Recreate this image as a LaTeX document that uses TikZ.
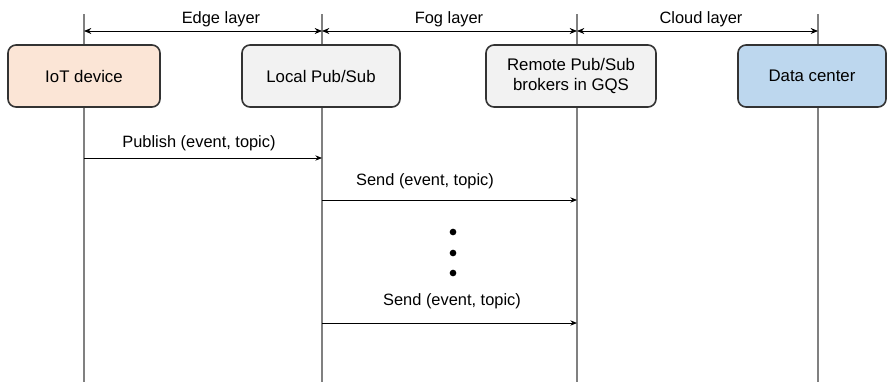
\documentclass[tikz,border=0pt]{standalone}
\usepackage{fontspec}
\setmainfont{Liberation Sans}
\usetikzlibrary{arrows.meta}
\definecolor{peach}{HTML}{FBE5D6}
\definecolor{lightgray}{HTML}{F2F2F2}
\definecolor{lightblue}{HTML}{BDD7EE}
\definecolor{lifegray}{HTML}{808080}
\definecolor{boxline}{HTML}{333333}
\tikzset{
  actor/.style={draw=boxline, line width=1.2pt, rounded corners=6pt,
    minimum width=#1, minimum height=46.5pt, inner sep=0pt, align=center,
    font=\fontsize{12.6}{14.5}\selectfont},
  lifeline/.style={draw=lifegray, line width=0.9pt},
  msg/.style={draw=black, line width=0.7pt, -{Stealth[length=5pt,width=4pt]}},
  span/.style={draw=black, line width=0.7pt, {Stealth[length=5.5pt,width=4.5pt]}-{Stealth[length=5.5pt,width=4.5pt]}},
  lbl/.style={font=\fontsize{12.3}{14}\selectfont, inner sep=0pt},
  dot/.style={circle, fill=black, inner sep=0pt, minimum size=5pt}
}
\begin{document}
\begin{tikzpicture}[x=0.75pt, y=-0.75pt]
\useasboundingbox (0,0) rectangle (888,382);

% lifeline ends
\coordinate (t1) at (84,14);   \coordinate (b1) at (84,382);
\coordinate (t2) at (322,14);  \coordinate (b2) at (322,382);
\coordinate (t3) at (577,14);  \coordinate (b3) at (577,382);
\coordinate (t4) at (818,14);  \coordinate (b4) at (818,382);

\draw[lifeline] (t1) -- (b1);
\draw[lifeline] (t2) -- (b2);
\draw[lifeline] (t3) -- (b3);
\draw[lifeline] (t4) -- (b4);

% participants
\node[actor=114pt, fill=peach] (iot) at (84,76) {IoT device};
\node[actor=118.5pt, fill=lightgray] (local) at (321,76) {Local Pub/Sub};
\node[actor=127.5pt, fill=lightgray] (remote) at (571,76) {Remote Pub/Sub\\brokers in GQS};
\node[actor=111pt, fill=lightblue] (dc) at (812,76) {Data center};

% layer spans
\coordinate (s1) at (84,31);
\coordinate (s2) at (322,31);
\coordinate (s3) at (577,31);
\coordinate (s4) at (818,31);
\draw[span] (s1) -- (s2);
\draw[span] (s2) -- (s3);
\draw[span] (s3) -- (s4);
\node[lbl] (edge) at (221,19) {Edge layer};
\node[lbl] (fog) at (449,19) {Fog layer};
\node[lbl] (cloud) at (701,19) {Cloud layer};

% messages
\coordinate (p1) at (84,158);  \coordinate (p2) at (322,158);
\draw[msg] (p1) -- (p2);
\node[lbl] (pub) at (199,143) {Publish (event, topic)};

\coordinate (q1) at (322,200); \coordinate (q2) at (577,200);
\draw[msg] (q1) -- (q2);
\node[lbl] (send1) at (425,181) {Send (event, topic)};

\node[dot] (d1) at (453,232) {};
\node[dot] (d2) at (453,253) {};
\node[dot] (d3) at (453,273) {};

\coordinate (r1) at (322,323); \coordinate (r2) at (577,323);
\draw[msg] (r1) -- (r2);
\node[lbl] (send2) at (452,301) {Send (event, topic)};
\end{tikzpicture}
\end{document}
